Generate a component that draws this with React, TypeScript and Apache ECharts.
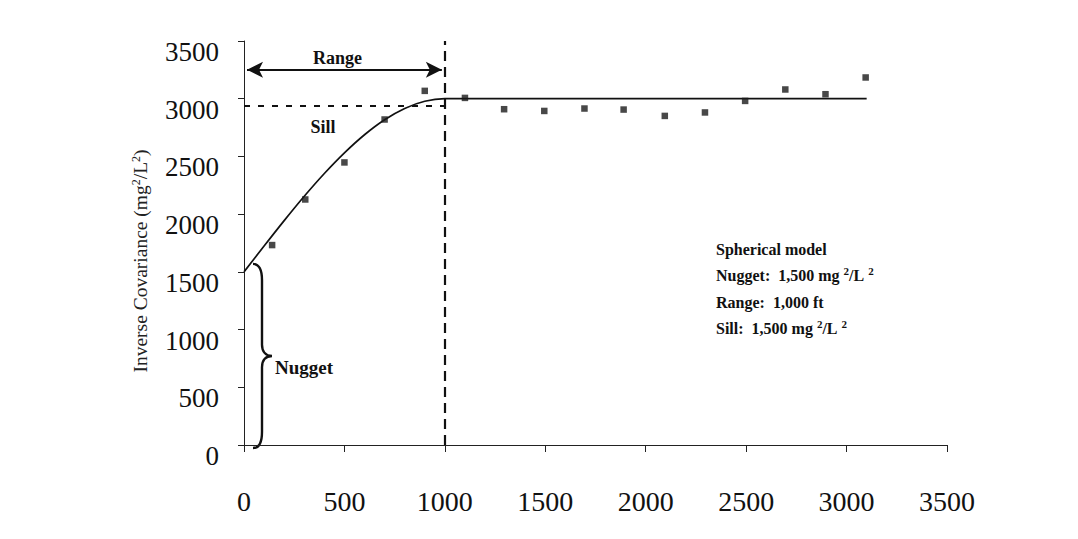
import React, { useEffect, useRef } from "react";
import * as echarts from "echarts";

// Experimental covariance points (lag distance, ft  →  inverse covariance, mg²/L²)
const lagX = [140, 305, 500, 700, 900, 1100, 1295, 1495, 1695, 1890, 2095, 2295, 2495, 2695, 2895, 3095];
const covY = [1732, 2127, 2448, 2820, 3068, 3007, 2909, 2894, 2915, 2906, 2851, 2881, 2981, 3080, 3039, 3184];

// Fitted spherical model curve
const modelX = [0, 100, 200, 300, 400, 500, 600, 700, 800, 900, 1000, 3100];
const modelY = [1500, 1724, 1944, 2155, 2352, 2531, 2688, 2818, 2916, 2978, 3000, 3000];

// Axis settings
const axisMin = 0;
const axisMax = 3500;
const axisStep = 500;

// Annotation values
const nuggetValue = 1500;
const rangeValue = 1000;
const sillLineValue = 2940;
const rangeArrowValue = 3250;

const yAxisName = "Inverse Covariance (mg{sup|2}/L{sup|2})";
const modelTitle = "Spherical model";
const modelLines = [
  "Nugget:  1,500 mg {sup|2}/L {sup|2}",
  "Range:  1,000 ft",
  "Sill:  1,500 mg {sup|2}/L {sup|2}",
];

const SERIF = "'Liberation Serif', 'DejaVu Serif', serif";

const braceD =
  "M0,0 C6,0 9,6 9,16 L9,79 C9,86 13,90 19,90 C13,90 9,94 9,101 L9,164 C9,174 6,180 0,180";

export default function App() {
  const ref = useRef<HTMLDivElement>(null);

  useEffect(() => {
    document.body.style.margin = "0";
    if (!ref.current) return;
    echarts.graphic.registerShape("brace", echarts.graphic.extendPath(braceD, {}));
    const chart = echarts.init(ref.current, null, { renderer: "svg" });

    const points = lagX.map((x, i) => [x, covY[i]]);
    const model = modelX.map((x, i) => [x, modelY[i]]);

    const option: any = {
      animation: false,
      backgroundColor: "#ffffff",
      grid: { left: 244, right: 131, top: 41, bottom: 94, containLabel: false },
      xAxis: {
        type: "value",
        min: axisMin,
        max: axisMax,
        interval: axisStep,
        splitLine: { show: false },
        axisLine: { show: true, onZero: false, lineStyle: { color: "#222", width: 1 } },
        axisTick: { show: true, inside: false, length: 7, lineStyle: { color: "#222" } },
        axisLabel: {
          fontFamily: SERIF,
          fontSize: 28,
          color: "#111",
          margin: 42,
          formatter: (v: number) => String(v),
        },
      },
      yAxis: {
        type: "value",
        min: axisMin,
        max: axisMax,
        interval: axisStep,
        splitLine: { show: false },
        axisLine: { show: true, onZero: false, lineStyle: { color: "#222", width: 1 } },
        axisTick: { show: true, length: 6, lineStyle: { color: "#222" } },
        axisLabel: {
          fontFamily: SERIF,
          fontSize: 27,
          color: "#111",
          margin: 25,
          verticalAlign: "top",
          lineHeight: 22,
          formatter: (v: number) => String(v),
        },
      },
      series: [
        {
          type: "line",
          data: model,
          showSymbol: false,
          smooth: 0.3,
          lineStyle: { color: "#111", width: 1.7 },
          silent: true,
          z: 2,
          markLine: {
            silent: true,
            symbol: ["none", "none"],
            label: { show: false },
            emphasis: { disabled: true },
            data: [
              [
                { coord: [rangeValue, axisMin], lineStyle: { color: "#111", width: 2.2, type: [10, 6] } },
                { coord: [rangeValue, axisMax] },
              ],
              [
                { coord: [axisMin, sillLineValue], lineStyle: { color: "#111", width: 2, type: [6, 8] } },
                { coord: [rangeValue, sillLineValue] },
              ],
            ],
          },
        },
        {
          type: "line",
          data: [],
          silent: true,
          markLine: {
            silent: true,
            symbol: ["arrow", "arrow"],
            symbolSize: [12, 16],
            label: { show: false },
            emphasis: { disabled: true },
            lineStyle: { color: "#111", width: 2, type: "solid" },
            data: [[{ coord: [axisMin + 15, rangeArrowValue] }, { coord: [rangeValue - 15, rangeArrowValue] }]],
          },
        },
        {
          type: "scatter",
          data: points,
          symbol: "rect",
          symbolSize: 6.5,
          itemStyle: { color: "#1a1a1a" },
          silent: true,
          z: 3,
        },
      ],
    };

    chart.setOption(option);

    const p = (x: number, y: number) => chart.convertToPixel({ gridIndex: 0 }, [x, y]) as number[];
    const origin = p(0, 0);
    const nug = p(0, nuggetValue);
    const arrowL = p(axisMin, rangeArrowValue);
    const arrowR = p(rangeValue, rangeArrowValue);
    const sill = p(0, sillLineValue);
    const braceTop = nug[1] - 8;
    const braceBottom = origin[1] + 3;
    const braceH = braceBottom - braceTop;

    const textBlockX = 716;
    const textBlockY = 249;
    const lineGap = 26.5;

    const graphic: any[] = [
      {
        type: "text",
        x: 140,
        y: 261,
        rotation: Math.PI / 2,
        silent: true,
        style: {
          text: yAxisName,
          fontFamily: SERIF,
          fontSize: 19.5,
          fill: "#222",
          align: "center",
          verticalAlign: "middle",
          rich: {
            sup: { fontFamily: SERIF, fontSize: 12, fill: "#222", padding: [0, 0, 9, 0], verticalAlign: "bottom" },
          },
        },
      },
      {
        type: "brace",
        x: origin[0] + 9,
        y: braceTop,
        scaleX: 1,
        scaleY: braceH / 180,
        silent: true,
        style: { fill: "none", stroke: "#111", lineWidth: 2.4 },
      },
      {
        type: "text",
        x: (arrowL[0] + arrowR[0]) / 2 - 7,
        y: arrowL[1] - 3,
        silent: true,
        style: { text: "Range", font: `bold 18px ${SERIF}`, fill: "#111", align: "center", verticalAlign: "bottom" },
      },
      {
        type: "text",
        x: sill[0] + 79,
        y: sill[1] + 21,
        silent: true,
        style: { text: "Sill", font: `bold 18px ${SERIF}`, fill: "#111", align: "center", verticalAlign: "middle" },
      },
      {
        type: "text",
        x: origin[0] + 31,
        y: (nug[1] + origin[1]) / 2 + 9,
        silent: true,
        style: { text: "Nugget", font: `bold 19px ${SERIF}`, fill: "#111", align: "left", verticalAlign: "middle" },
      },
      {
        type: "text",
        x: textBlockX,
        y: textBlockY,
        silent: true,
        style: { text: modelTitle, font: `bold 16px ${SERIF}`, fill: "#111", align: "left", verticalAlign: "middle" },
      },
      ...modelLines.map((t, i) => ({
        type: "text",
        x: textBlockX,
        y: textBlockY + lineGap * (i + 1),
        silent: true,
        style: {
          text: t,
          fontFamily: SERIF,
          fontWeight: "bold",
          fontSize: 16,
          fill: "#111",
          align: "left",
          verticalAlign: "middle",
          rich: {
            sup: { fontFamily: SERIF, fontWeight: "bold", fontSize: 11, fill: "#111", padding: [0, 0, 9, 0], verticalAlign: "bottom" },
          },
        },
      })),
    ];

    chart.setOption({ graphic });

    return () => chart.dispose();
  }, []);

  return <div ref={ref} style={{ width: 1078, height: 539 }} />;
}
